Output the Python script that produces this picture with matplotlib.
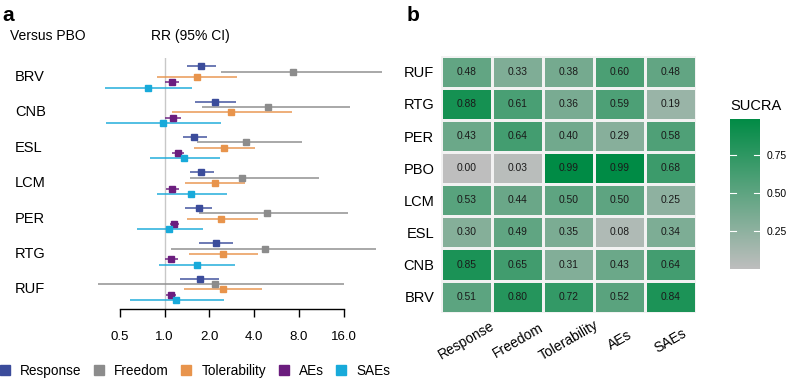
import numpy as np
import matplotlib
matplotlib.use("Agg")
import matplotlib.pyplot as plt
from matplotlib.colors import LinearSegmentedColormap, Normalize
from matplotlib.lines import Line2D
import matplotlib.transforms as mtransforms

plt.rcParams['font.family'] = ['Liberation Sans', 'DejaVu Sans']

# ---------------- data ----------------
treatments = ["BRV", "CNB", "ESL", "LCM", "PER", "RTG", "RUF"]
outcomes = ["Response", "Freedom", "Tolerability", "AEs", "SAEs"]
colors = ["#3B4C9B", "#8C8C8C", "#E8944C", "#6B1D7E", "#18AADA"]

response_est = [1.76, 2.17, 1.59, 1.77, 1.70, 2.21, 1.72]
response_lo = [1.42, 1.60, 1.33, 1.48, 1.37, 1.71, 1.28]
response_hi = [2.21, 3.01, 1.92, 2.14, 2.10, 2.87, 2.32]

freedom_est = [7.34, 4.96, 3.55, 3.30, 4.86, 4.76, 2.19]
freedom_lo = [2.41, 1.78, 1.66, 1.48, 1.71, 1.11, 0.355]
freedom_hi = [28.8, 17.6, 8.36, 10.9, 17.1, 26.5, 16.0]

toler_est = [1.65, 2.78, 2.52, 2.18, 2.40, 2.48, 2.46]
toler_lo = [0.895, 1.13, 1.58, 1.37, 1.41, 1.47, 1.36]
toler_hi = [3.08, 7.16, 4.06, 3.47, 4.23, 4.23, 4.54]

aes_est = [1.12, 1.14, 1.23, 1.12, 1.16, 1.11, 1.10]
aes_lo = [1.01, 1.00, 1.13, 1.02, 1.09, 1.00, 1.02]
aes_hi = [1.25, 1.30, 1.35, 1.25, 1.25, 1.23, 1.19]

saes_est = [0.77, 0.97, 1.36, 1.51, 1.08, 1.65, 1.19]
saes_lo = [0.40, 0.405, 0.80, 0.89, 0.65, 0.92, 0.59]
saes_hi = [1.52, 2.39, 2.36, 2.62, 1.81, 2.99, 2.51]

xticks = [0.5, 1.0, 2.0, 4.0, 8.0, 16.0]
xtick_labels = ["0.5", "1.0", "2.0", "4.0", "8.0", "16.0"]

heat_rows = ["RUF", "RTG", "PER", "PBO", "LCM", "ESL", "CNB", "BRV"]
heat_cols = ["Response", "Freedom", "Tolerability", "AEs", "SAEs"]
sucra_RUF = [0.48, 0.33, 0.38, 0.60, 0.48]
sucra_RTG = [0.88, 0.61, 0.36, 0.59, 0.19]
sucra_PER = [0.43, 0.64, 0.40, 0.29, 0.58]
sucra_PBO = [0.00, 0.03, 0.99, 0.99, 0.68]
sucra_LCM = [0.53, 0.44, 0.50, 0.50, 0.25]
sucra_ESL = [0.30, 0.49, 0.35, 0.08, 0.34]
sucra_CNB = [0.85, 0.65, 0.31, 0.43, 0.64]
sucra_BRV = [0.51, 0.80, 0.72, 0.52, 0.84]
sucra_ticks = [0.25, 0.50, 0.75]

# ---------------- figure ----------------
W, H = 787, 379
fig = plt.figure(figsize=(W / 100, H / 100), dpi=100)

def rect(l, t, r, b):
    return [l / W, 1 - b / H, (r - l) / W, (b - t) / H]

# ---------- panel a : forest ----------
ax = fig.add_axes(rect(90, 58, 390, 308.5))
px0, ppd = 164.5, 44.8
ax.set_xscale('log', base=2)
ax.set_xlim(2 ** ((90 - px0) / ppd), 2 ** ((390 - px0) / ppd))
ax.set_ylim(308.5, 58)

y0, gstep, rstep = 66.3, 35.4, 5.35
series = [
    (response_est, response_lo, response_hi),
    (freedom_est, freedom_lo, freedom_hi),
    (toler_est, toler_lo, toler_hi),
    (aes_est, aes_lo, aes_hi),
    (saes_est, saes_lo, saes_hi),
]
ax.axvline(1.0, color="#C8C8C8", lw=1.0, zorder=0)
for j, (est, lo, hi) in enumerate(series):
    ys = [y0 + i * gstep + j * rstep for i in range(len(treatments))]
    ax.hlines(ys, lo, hi, color=colors[j], lw=1.4, alpha=0.75, zorder=2)
    ax.plot(est, ys, 's', color=colors[j], ms=4.6, zorder=3, clip_on=False)
for s in ["left", "top", "right"]:
    ax.spines[s].set_visible(False)
ax.spines["bottom"].set_bounds(0.5, 16)
ax.spines["bottom"].set_linewidth(1.0)
ax.set_xticks(xticks)
ax.set_xticklabels(xtick_labels, fontsize=9.5)
ax.minorticks_off()
ax.tick_params(axis='x', length=6, width=1.0, pad=10.5)
ax.set_yticks([])
ax.patch.set_alpha(0)

tr = mtransforms.blended_transform_factory(fig.transFigure, ax.transData)
for i, t in enumerate(treatments):
    ax.text(15 / W, y0 + i * gstep + 2 * rstep, t, transform=tr,
            ha='left', va='center', fontsize=10.5)

fig.text(10 / W, 1 - 36 / H, "Versus PBO", ha='left', va='center', fontsize=10)
fig.text(190.5 / W, 1 - 36 / H, "RR (95% CI)", ha='center', va='center', fontsize=10)
fig.text(2 / W, 1 - 21 / H, "a", ha='left', va='baseline', fontsize=15, fontweight='bold')
fig.text(407 / W, 1 - 21 / H, "b", ha='left', va='baseline', fontsize=15, fontweight='bold')

handles = [Line2D([], [], marker='s', ls='none', color=c, ms=7.2) for c in colors]
fig.legend(handles, outcomes, loc='center left', bbox_to_anchor=(-2 / W, 1 - 371 / H),
           ncol=5, frameon=False, fontsize=9.8, handlelength=1.0, handletextpad=0.6,
           columnspacing=0.8, borderpad=0, borderaxespad=0)

# ---------- panel b : heatmap ----------
hx = fig.add_axes(rect(441.3, 55.7, 696, 312.7))
mat = np.array([sucra_RUF, sucra_RTG, sucra_PER, sucra_PBO,
                sucra_LCM, sucra_ESL, sucra_CNB, sucra_BRV])
cmap = LinearSegmentedColormap.from_list("sucra", ["#BEBEBE", "#008B45"])
allv = mat.ravel()
norm = Normalize(vmin=allv.min(), vmax=allv.max())
hx.pcolormesh(np.arange(len(heat_cols) + 1), np.arange(len(heat_rows) + 1), mat,
              cmap=cmap, norm=norm, edgecolor='#F2F2F2', linewidth=0.8)
hx.set_xlim(0, len(heat_cols))
hx.set_ylim(len(heat_rows), 0)
for r in range(len(heat_rows)):
    for c in range(len(heat_cols)):
        hx.text(c + 0.5, r + 0.5, f"{mat[r, c]:.2f}", ha='center', va='center',
                fontsize=7.4, color='#1A1A1A')
hx.set_yticks(np.arange(len(heat_rows)) + 0.5)
hx.set_yticklabels(heat_rows, fontsize=10.5)
hx.set_xticks(np.arange(len(heat_cols)) + 0.5)
hx.set_xticklabels(heat_cols, fontsize=10, rotation=30, ha='center', va='center')
hx.tick_params(axis='y', length=0, pad=5)
hx.tick_params(axis='x', length=0, pad=20)
for s in hx.spines.values():
    s.set_visible(False)

# colorbar
cx = fig.add_axes(rect(730, 119, 760, 269.3))
grad = np.linspace(allv.min(), allv.max(), 256).reshape(-1, 1)
cx.imshow(grad, aspect='auto', cmap=cmap, norm=norm, origin='lower',
          extent=[0, 1, allv.min(), allv.max()])
cx.set_ylim(allv.min(), allv.max())
cx.set_xlim(0, 1)
for tv in sucra_ticks:
    cx.plot([0, 0.2], [tv, tv], color='white', lw=0.8)
    cx.plot([0.8, 1], [tv, tv], color='white', lw=0.8)
cx.set_xticks([])
cx.yaxis.tick_right()
cx.set_yticks(sucra_ticks)
cx.set_yticklabels([f"{v:.2f}" for v in sucra_ticks], fontsize=7.5)
cx.tick_params(axis='y', length=0, pad=5)
for s in cx.spines.values():
    s.set_visible(False)
fig.text(730 / W, 1 - 106 / H, "SUCRA", ha='left', va='center', fontsize=10.5)

fig.savefig("out.png", dpi=100)
